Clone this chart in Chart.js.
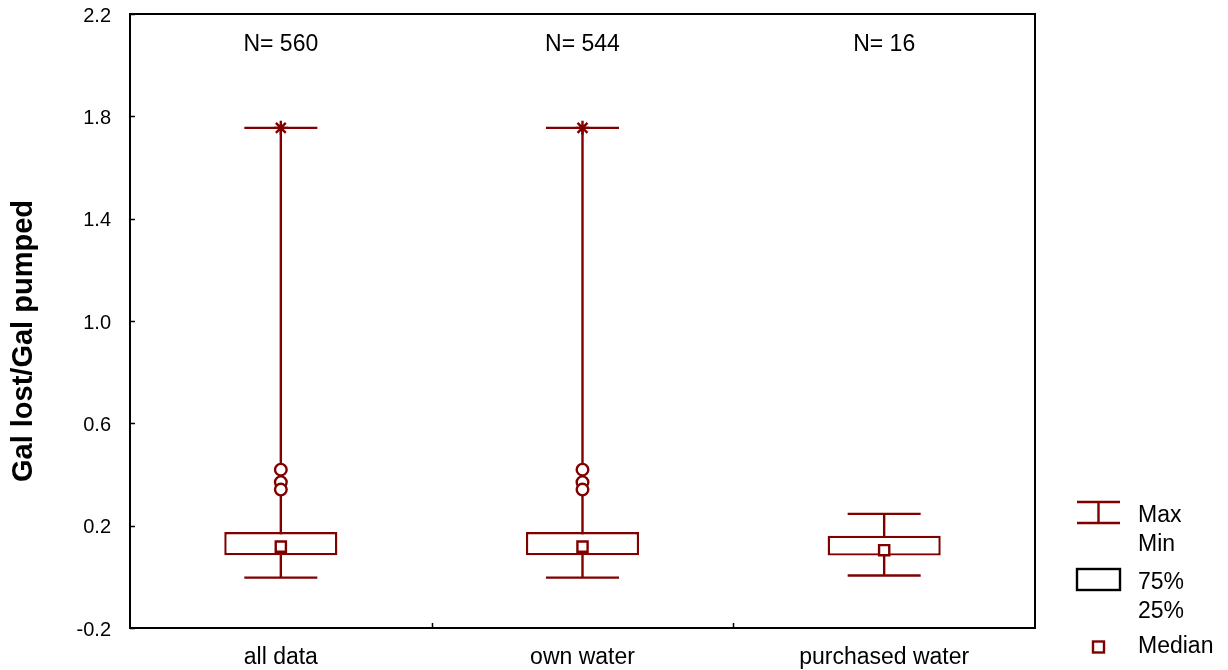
<!DOCTYPE html>
<html>
<head>
<meta charset="utf-8">
<script src="https://cdn.jsdelivr.net/npm/chart.js@4/dist/chart.umd.min.js"></script>
<style>
  html, body { margin: 0; padding: 0; background: #fff; }
  #wrap { width: 1228px; height: 670px; position: relative; }
</style>
</head>
<body>
<div id="wrap"><canvas id="c" width="1228" height="670"></canvas></div>
<script>
// Water loss ratio (gallons lost / gallons pumped) by supply group
const categories = ['all data', 'own water', 'purchased water'];
const counts = [560, 544, 16];
const minValues = [-0.003, -0.003, 0.005];
const q1Values = [0.084, 0.084, 0.083];
const medianValues = [0.118, 0.118, 0.104];
const q3Values = [0.175, 0.175, 0.161];
const maxValues = [1.755, 1.755, 0.246];
const outlierValues = [[0.419, 0.370, 0.341], [0.419, 0.370, 0.341], []];
const extremeValues = [[1.755], [1.755], []];
const yTicks = [-0.2, 0.2, 0.6, 1.0, 1.4, 1.8, 2.2];
const axisTitle = 'Gal lost/Gal pumped';
const legendLabels = ['Max', 'Min', '75%', '25%', 'Median'];

const MAROON = '#800000';
const FONT = '"Liberation Sans", Arial, Helvetica, sans-serif';
const LINE_W = 2.4;

function pointsFrom(groups) {
  const pts = [];
  groups.forEach((vals, i) => vals.forEach(v => pts.push({ x: categories[i], y: v })));
  return pts;
}

// Whisker stems and caps, drawn under the boxes
const whiskerPlugin = {
  id: 'whiskers',
  beforeDatasetsDraw(chart) {
    const { ctx, scales: { x, y } } = chart;
    const capHalf = x.width / categories.length * 0.121;
    ctx.save();
    ctx.strokeStyle = MAROON;
    ctx.lineWidth = LINE_W;
    categories.forEach((c, i) => {
      const cx = x.getPixelForValue(i);
      const yMin = y.getPixelForValue(minValues[i]);
      const yMax = y.getPixelForValue(maxValues[i]);
      ctx.beginPath();
      ctx.moveTo(cx, yMin); ctx.lineTo(cx, yMax);
      ctx.moveTo(cx - capHalf, yMin); ctx.lineTo(cx + capHalf, yMin);
      ctx.moveTo(cx - capHalf, yMax); ctx.lineTo(cx + capHalf, yMax);
      ctx.stroke();
    });
    ctx.restore();
  }
};

// Frame, inward ticks, labels, group counts, axis title and key
const decorPlugin = {
  id: 'decor',
  afterDraw(chart) {
    const { ctx, chartArea: a, scales: { x, y } } = chart;
    ctx.save();
    ctx.strokeStyle = '#000';
    ctx.lineWidth = 2;
    ctx.strokeRect(a.left, a.top, a.right - a.left, a.bottom - a.top);

    // y ticks pointing into the plot
    ctx.lineWidth = 1.5;
    ctx.beginPath();
    yTicks.forEach(v => {
      const py = Math.round(y.getPixelForValue(v)) + 0.5;
      ctx.moveTo(a.left, py); ctx.lineTo(a.left + 5, py);
    });
    // x ticks between groups
    for (let i = 1; i < categories.length; i++) {
      const px = Math.round((x.getPixelForValue(i - 1) + x.getPixelForValue(i)) / 2) + 0.5;
      ctx.moveTo(px, a.bottom); ctx.lineTo(px, a.bottom - 5);
    }
    ctx.stroke();

    ctx.fillStyle = '#000';
    ctx.font = '20px ' + FONT;
    ctx.textAlign = 'right';
    ctx.textBaseline = 'middle';
    yTicks.forEach(v => ctx.fillText(v.toFixed(1), a.left - 19, y.getPixelForValue(v) + 2));

    ctx.font = '23px ' + FONT;
    ctx.textAlign = 'center';
    categories.forEach((c, i) => {
      const px = x.getPixelForValue(i);
      ctx.fillText(c, px, a.bottom + 30);
      ctx.fillText('N= ' + counts[i], px, a.top + 31);
    });

    ctx.save();
    ctx.translate(24, 341);
    ctx.rotate(-Math.PI / 2);
    ctx.font = 'bold 29px ' + FONT;
    ctx.textAlign = 'center';
    ctx.textBaseline = 'middle';
    ctx.fillText(axisTitle, 0, 0);
    ctx.restore();

    // key
    const kx = a.right + 42, kw = 43;
    ctx.strokeStyle = MAROON;
    ctx.lineWidth = LINE_W;
    ctx.beginPath();
    ctx.moveTo(kx, 502); ctx.lineTo(kx + kw, 502);
    ctx.moveTo(kx, 523); ctx.lineTo(kx + kw, 523);
    ctx.moveTo(kx + kw / 2, 502); ctx.lineTo(kx + kw / 2, 523);
    ctx.stroke();
    ctx.strokeStyle = '#000';
    ctx.strokeRect(kx, 569, kw, 21);
    ctx.strokeStyle = MAROON;
    ctx.strokeRect(kx + kw / 2 - 5.5, 641.5, 11, 11);

    ctx.fillStyle = '#000';
    ctx.font = '23px ' + FONT;
    ctx.textAlign = 'left';
    ctx.textBaseline = 'middle';
    const tx = kx + 61;
    ctx.fillText(legendLabels[0], tx, 516);
    ctx.fillText(legendLabels[1], tx, 545);
    ctx.fillText(legendLabels[2], tx, 583);
    ctx.fillText(legendLabels[3], tx, 612);
    ctx.fillText(legendLabels[4], tx, 647);
    ctx.restore();
  }
};

new Chart(document.getElementById('c'), {
  type: 'bar',
  data: {
    labels: categories,
    datasets: [
      {
        type: 'bar',
        label: 'box',
        data: categories.map((c, i) => [q1Values[i], q3Values[i]]),
        backgroundColor: '#fff',
        borderColor: MAROON,
        borderWidth: LINE_W,
        borderSkipped: false,
        barPercentage: 0.375,
        categoryPercentage: 1,
        grouped: false,
        order: 3
      },
      {
        type: 'line',
        label: 'median',
        data: medianValues,
        showLine: false,
        pointStyle: 'rect',
        pointRadius: 7.2,
        pointBackgroundColor: '#fff',
        pointBorderColor: MAROON,
        pointBorderWidth: LINE_W,
        order: 1
      },
      {
        type: 'line',
        label: 'outliers',
        data: pointsFrom(outlierValues),
        showLine: false,
        pointStyle: 'circle',
        pointRadius: 5.8,
        pointBackgroundColor: '#fff',
        pointBorderColor: MAROON,
        pointBorderWidth: LINE_W,
        order: 0
      },
      {
        type: 'line',
        label: 'extremes',
        data: pointsFrom(extremeValues),
        showLine: false,
        pointStyle: 'star',
        pointRadius: 7,
        pointBackgroundColor: MAROON,
        pointBorderColor: MAROON,
        pointBorderWidth: LINE_W,
        order: 0
      }
    ]
  },
  options: {
    responsive: false,
    animation: false,
    events: [],
    layout: { padding: { left: 0, right: 193, top: 14, bottom: 0 } },
    plugins: { legend: { display: false }, tooltip: { enabled: false } },
    scales: {
      x: {
        type: 'category',
        offset: true,
        grid: { display: false },
        border: { display: false },
        ticks: { display: false },
        afterFit(s) { s.height = 42; }
      },
      y: {
        type: 'linear',
        min: -0.2,
        max: 2.2,
        grid: { display: false },
        border: { display: false },
        ticks: { display: false },
        afterBuildTicks(s) { s.ticks = yTicks.map(v => ({ value: v })); },
        afterFit(s) { s.width = 130; }
      }
    }
  },
  plugins: [whiskerPlugin, decorPlugin]
});
</script>
</body>
</html>
